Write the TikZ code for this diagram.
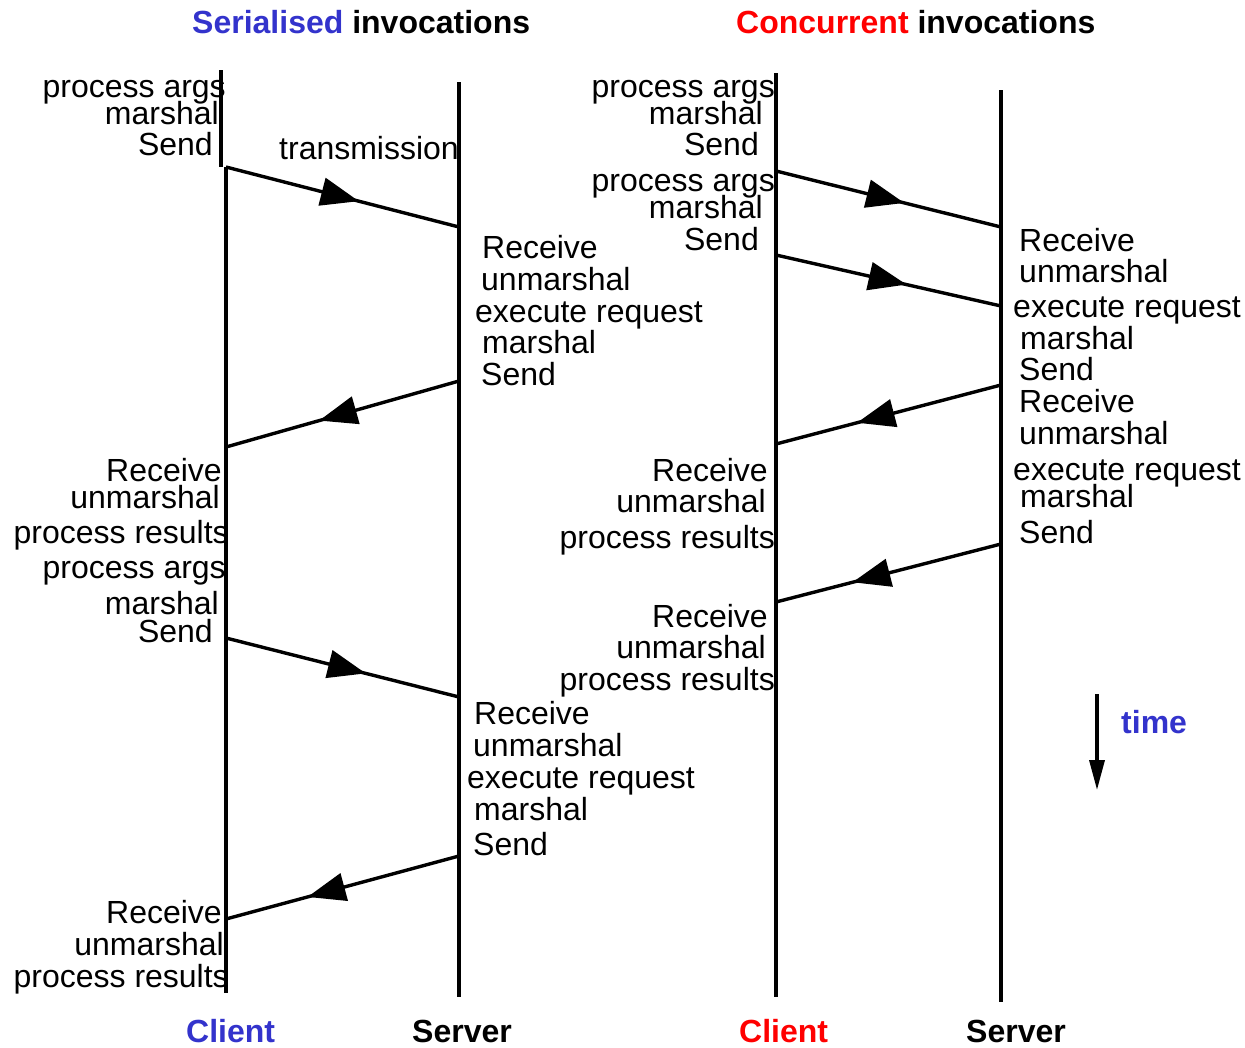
\documentclass[tikz,border=0pt]{standalone}
\usepackage{fontspec}
\setmainfont{Liberation Sans}
\usetikzlibrary{arrows.meta,decorations.markings}
\definecolor{serblue}{RGB}{51,51,204}
\definecolor{conred}{RGB}{255,0,0}
\tikzset{
  txt/.style={inner sep=0pt, font=\fontsize{32}{32}\selectfont},
  lt/.style={txt, anchor=base east},
  rt/.style={txt, anchor=base west},
  hd/.style={inner sep=0pt, anchor=base west, font=\fontsize{32}{32}\selectfont\bfseries},
  life/.style={line width=3.4pt},
  msg/.style={line width=3.4pt, postaction={decorate, decoration={markings,
      mark=at position #1 with {\arrow{Triangle[length=38pt,width=28pt]}}}}},
  msg/.default=0.57
}
\begin{document}
\begin{tikzpicture}[x=1pt,y=-1pt]
\useasboundingbox (0,0) rectangle (1245,1047);

% headings
\node[hd] (t1) at (192,33) {\textcolor{serblue}{Serialised} invocations};
\node[hd] (t2) at (736,33) {\textcolor{conred}{Concurrent} invocations};
\node[hd] (c1) at (186,1042) {\textcolor{serblue}{Client}};
\node[hd] (s1) at (412,1042) {Server};
\node[hd] (c2) at (739,1042) {\textcolor{conred}{Client}};
\node[hd] (s2) at (966,1042) {Server};

% lifelines
\coordinate (lc0) at (221,70);  \coordinate (lc1) at (221,167);
\coordinate (lc2) at (226,167); \coordinate (lc3) at (226,993);
\coordinate (ls0) at (459,82);  \coordinate (ls1) at (459,997);
\coordinate (rc0) at (776,73);  \coordinate (rc1) at (776,997);
\coordinate (rs0) at (1001,90); \coordinate (rs1) at (1001,1002);
\draw[life] (lc0) -- (lc1);
\draw[life] (lc2) -- (lc3);
\draw[life] (ls0) -- (ls1);
\draw[life] (rc0) -- (rc1);
\draw[life] (rs0) -- (rs1);

% messages, serialised
\coordinate (a1) at (226,167); \coordinate (b1) at (459,227);
\coordinate (a2) at (459,381); \coordinate (b2) at (226,447);
\coordinate (a3) at (226,638); \coordinate (b3) at (459,697);
\coordinate (a4) at (459,856); \coordinate (b4) at (226,919);
\draw[msg=0.57] (a1) -- (b1);
\draw[msg=0.60] (a2) -- (b2);
\draw[msg=0.60] (a3) -- (b3);
\draw[msg=0.65] (a4) -- (b4);

% messages, concurrent
\coordinate (p1) at (776,171);  \coordinate (q1) at (1001,227);
\coordinate (p2) at (776,255);  \coordinate (q2) at (1001,306);
\coordinate (p3) at (1001,385); \coordinate (q3) at (776,444);
\coordinate (p4) at (1001,544); \coordinate (q4) at (776,602);
\draw[msg=0.57] (p1) -- (q1);
\draw[msg=0.58] (p2) -- (q2);
\draw[msg=0.64] (p3) -- (q3);
\draw[msg=0.66] (p4) -- (q4);

% time axis
\coordinate (ta) at (1097,694); \coordinate (tb) at (1097,790);
\draw[line width=3.4pt,-{Triangle[length=30pt,width=15pt]}] (ta) -- (tb);
\node[hd, text=serblue] (tm) at (1121,733) {time};

% serialised, client side
\node[lt] (l1) at (226,97) {process args};
\node[lt] (l2) at (219,124) {marshal};
\node[lt] (l3) at (213,155) {Send};
\node[rt] (l4) at (279,159) {transmission};
\node[lt] (l5) at (222,481) {Receive};
\node[lt] (l6) at (220,508) {unmarshal};
\node[lt] (l7) at (229,543) {process results};
\node[lt] (l8) at (226,578) {process args};
\node[lt] (l9) at (219,614) {marshal};
\node[lt] (l10) at (213,642) {Send};
\node[lt] (l11) at (222,923) {Receive};
\node[lt] (l12) at (224,955) {unmarshal};
\node[lt] (l13) at (229,987) {process results};

% serialised, server side
\node[rt] (m1) at (482,258) {Receive};
\node[rt] (m2) at (481,290) {unmarshal};
\node[rt] (m3) at (475,322) {execute request};
\node[rt] (m4) at (482,353) {marshal};
\node[rt] (m5) at (481,385) {Send};
\node[rt] (m6) at (474,724) {Receive};
\node[rt] (m7) at (473,756) {unmarshal};
\node[rt] (m8) at (467,788) {execute request};
\node[rt] (m9) at (474,820) {marshal};
\node[rt] (m10) at (473,855) {Send};

% concurrent, client side
\node[lt] (n1) at (775,97) {process args};
\node[lt] (n2) at (763,124) {marshal};
\node[lt] (n3) at (759,155) {Send};
\node[lt] (n4) at (775,191) {process args};
\node[lt] (n5) at (763,218) {marshal};
\node[lt] (n6) at (759,250) {Send};
\node[lt] (n7) at (768,481) {Receive};
\node[lt] (n8) at (766,512) {unmarshal};
\node[lt] (n9) at (775,548) {process results};
\node[lt] (n10) at (768,627) {Receive};
\node[lt] (n11) at (766,658) {unmarshal};
\node[lt] (n12) at (775,690) {process results};

% concurrent, server side
\node[rt] (k1) at (1019,251) {Receive};
\node[rt] (k2) at (1019,282) {unmarshal};
\node[rt] (k3) at (1013,317) {execute request};
\node[rt] (k4) at (1020,349) {marshal};
\node[rt] (k5) at (1019,380) {Send};
\node[rt] (k6) at (1019,412) {Receive};
\node[rt] (k7) at (1019,444) {unmarshal};
\node[rt] (k8) at (1013,480) {execute request};
\node[rt] (k9) at (1020,507) {marshal};
\node[rt] (k10) at (1019,543) {Send};
\end{tikzpicture}
\end{document}
